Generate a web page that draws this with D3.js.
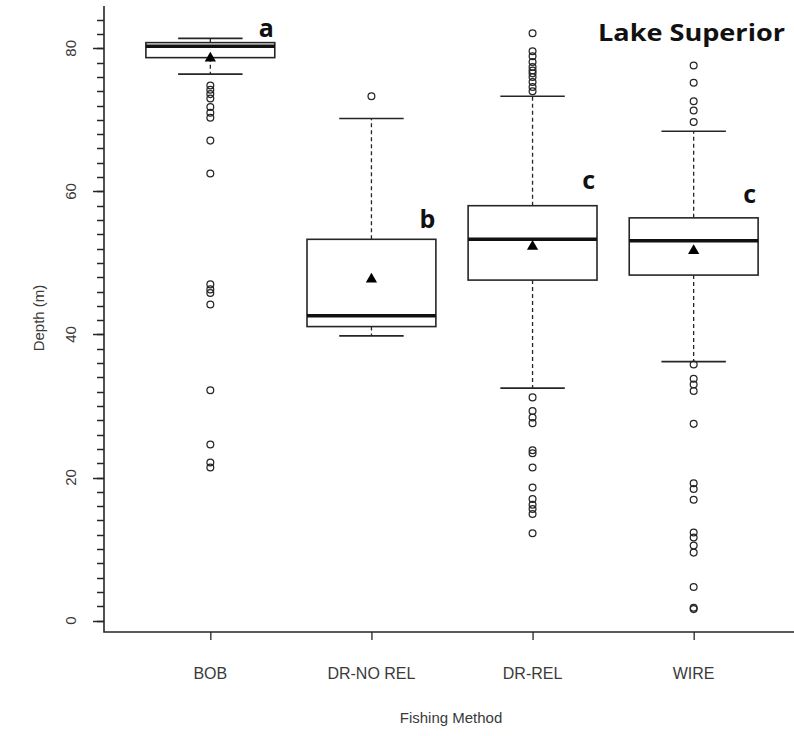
<!DOCTYPE html>
<html>
<head>
<meta charset="utf-8">
<script src="https://cdn.jsdelivr.net/npm/d3@7"></script>
<style>
  html, body { margin: 0; padding: 0; background: #fff; }
  svg { display: block; }
</style>
</head>
<body>
<svg id="chart" width="794" height="736"></svg>
<script>
// ---- data ----
const categories = ["BOB", "DR-NO REL", "DR-REL", "WIRE"];
const lowerWhisker = [76.4, 39.8, 32.5, 36.2];
const q1 = [78.7, 41.1, 47.6, 48.3];
const medians = [80.3, 42.6, 53.3, 53.1];
const q3 = [80.8, 53.3, 58.0, 56.3];
const upperWhisker = [81.4, 70.2, 73.3, 68.4];
const means = [78.6, 47.7, 52.3, 51.7];
const outliersBOB = [74.8, 74.2, 73.6, 73.0, 71.8, 71.0, 70.3, 67.1, 62.5, 47.0, 46.3, 45.8, 44.2, 32.2, 24.6, 22.1, 21.4];
const outliersDRNOREL = [73.3];
const outliersDRREL = [82.1, 79.6, 78.9, 78.1, 77.4, 76.9, 76.5, 76.0, 75.3, 74.6, 74.0,
                       31.2, 29.3, 28.4, 27.6, 23.8, 23.4, 21.4, 18.6, 17.0, 16.2, 15.6, 14.9, 12.2];
const outliersWIRE = [77.6, 75.2, 72.6, 71.3, 69.7, 35.8, 33.8, 33.0, 32.1, 27.5,
                      19.2, 18.4, 16.9, 12.3, 11.6, 10.5, 9.5, 4.7, 1.8, 1.6];
const sigLetters = ["a", "b", "c", "c"];
const yTickLabels = [0, 20, 40, 60, 80];
const yMinorTicks = d3.range(0, 85, 2);
const panelTitle = "Lake Superior";
const xTitle = "Fishing Method";
const yTitle = "Depth (m)";

const outliers = [outliersBOB, outliersDRNOREL, outliersDRREL, outliersWIRE];

// ---- layout ----
const svg = d3.select("#chart");
const plotLeft = 104, plotRight = 800, plotTop = 6, plotBottom = 632;
const ink = "#262626";

const x = d3.scaleLinear().domain([0.34, 4.66]).range([plotLeft, plotRight]);
const y = d3.scaleLinear().domain([-1.6, 85.5]).range([plotBottom, 9]);
const boxHalf = x(1.4) - x(1);
const capHalf = x(1.2) - x(1);

svg.append("rect").attr("width", 794).attr("height", 736).attr("fill", "#fff");

// y axis ticks (drawn from the y scale)
svg.append("g").selectAll("line").data(yMinorTicks).join("line")
  .attr("x1", plotLeft - 7).attr("x2", plotLeft)
  .attr("y1", d => Math.round(y(d)) + 0.5).attr("y2", d => Math.round(y(d)) + 0.5)
  .attr("stroke", ink).attr("stroke-width", 1.5);
svg.append("g").selectAll("line").data(yTickLabels).join("line")
  .attr("x1", plotLeft - 11).attr("x2", plotLeft)
  .attr("y1", d => Math.round(y(d)) + 0.5).attr("y2", d => Math.round(y(d)) + 0.5)
  .attr("stroke", ink).attr("stroke-width", 1.5);
svg.append("g").selectAll("text").data(yTickLabels).join("text")
  .attr("transform", d => `translate(70,${y(d)}) rotate(-90)`)
  .attr("text-anchor", "middle").attr("dominant-baseline", "central")
  .attr("font-family", "Liberation Sans, Arial, sans-serif").attr("font-size", 15)
  .attr("fill", "#3a3a3a").text(d => d);

// x axis
const xAxis = d3.axisBottom(x).tickValues([1, 2, 3, 4]).tickSize(8).tickFormat(() => "");
const gx = svg.append("g").attr("transform", `translate(0,${plotBottom})`).call(xAxis);
gx.select(".domain").remove();
gx.selectAll(".tick line").attr("stroke", ink).attr("stroke-width", 1.3);
svg.append("g").selectAll("text").data(categories).join("text")
  .attr("x", (d, i) => x(i + 1)).attr("y", 679)
  .attr("text-anchor", "middle")
  .attr("font-family", "Liberation Sans, Arial, sans-serif").attr("font-size", 16)
  .attr("fill", "#3a3a3a").text(d => d);

// L-shaped frame
svg.append("path")
  .attr("d", `M${plotLeft},${plotTop} V${plotBottom} H${plotRight}`)
  .attr("fill", "none").attr("stroke", ink).attr("stroke-width", 1.6);

// titles
svg.append("text").attr("x", 451).attr("y", 723).attr("text-anchor", "middle")
  .attr("font-family", "Liberation Sans, Arial, sans-serif").attr("font-size", 15)
  .attr("fill", "#3a3a3a").text(xTitle);
svg.append("text").attr("transform", `translate(38,318) rotate(-90)`)
  .attr("text-anchor", "middle").attr("dominant-baseline", "central")
  .attr("font-family", "Liberation Sans, Arial, sans-serif").attr("font-size", 15)
  .attr("fill", "#3a3a3a").text(yTitle);

// boxes
const g = svg.append("g");
categories.forEach((c, i) => {
  const cx = x(i + 1);
  // whiskers (dashed)
  g.append("line").attr("x1", cx).attr("x2", cx)
    .attr("y1", y(q3[i])).attr("y2", y(upperWhisker[i]))
    .attr("stroke", ink).attr("stroke-width", 1.3).attr("stroke-dasharray", "4,3");
  g.append("line").attr("x1", cx).attr("x2", cx)
    .attr("y1", y(q1[i])).attr("y2", y(lowerWhisker[i]))
    .attr("stroke", ink).attr("stroke-width", 1.3).attr("stroke-dasharray", "4,3");
  // caps
  [upperWhisker[i], lowerWhisker[i]].forEach(v => {
    g.append("line").attr("x1", cx - capHalf).attr("x2", cx + capHalf)
      .attr("y1", y(v)).attr("y2", y(v))
      .attr("stroke", ink).attr("stroke-width", 1.6);
  });
  // box
  g.append("rect").attr("x", cx - boxHalf).attr("width", 2 * boxHalf)
    .attr("y", y(q3[i])).attr("height", y(q1[i]) - y(q3[i]))
    .attr("fill", "#fff").attr("stroke", ink).attr("stroke-width", 1.6);
  // median
  g.append("line").attr("x1", cx - boxHalf).attr("x2", cx + boxHalf)
    .attr("y1", y(medians[i])).attr("y2", y(medians[i]))
    .attr("stroke", "#111").attr("stroke-width", 3.5);
  // outliers
  g.append("g").selectAll("circle").data(outliers[i]).join("circle")
    .attr("cx", cx).attr("cy", d => y(d)).attr("r", 3.4)
    .attr("fill", "none").attr("stroke", ink).attr("stroke-width", 1.25);
  // mean triangle
  g.append("path")
    .attr("d", d3.symbol(d3.symbolTriangle, 55)())
    .attr("transform", `translate(${cx},${y(means[i])})`)
    .attr("fill", "#000");
});

// significance letters
const letterDx = 56;
const letterDy = [-6, -11, -17, -15];
svg.append("g").selectAll("text").data(sigLetters).join("text")
  .attr("x", (d, i) => x(i + 1) + letterDx)
  .attr("y", (d, i) => y(q3[i]) + letterDy[i])
  .attr("text-anchor", "middle")
  .attr("font-family", "Open Sans, sans-serif").attr("font-weight", "bold")
  .attr("font-size", 25).attr("fill", "#111").text(d => d);

svg.append("text").attr("x", 598).attr("y", 41)
  .attr("textLength", 187).attr("lengthAdjust", "spacingAndGlyphs")
  .attr("font-family", "Open Sans, sans-serif").attr("font-weight", "bold")
  .attr("font-size", 24).attr("fill", "#111").text(panelTitle);
</script>
</body>
</html>
